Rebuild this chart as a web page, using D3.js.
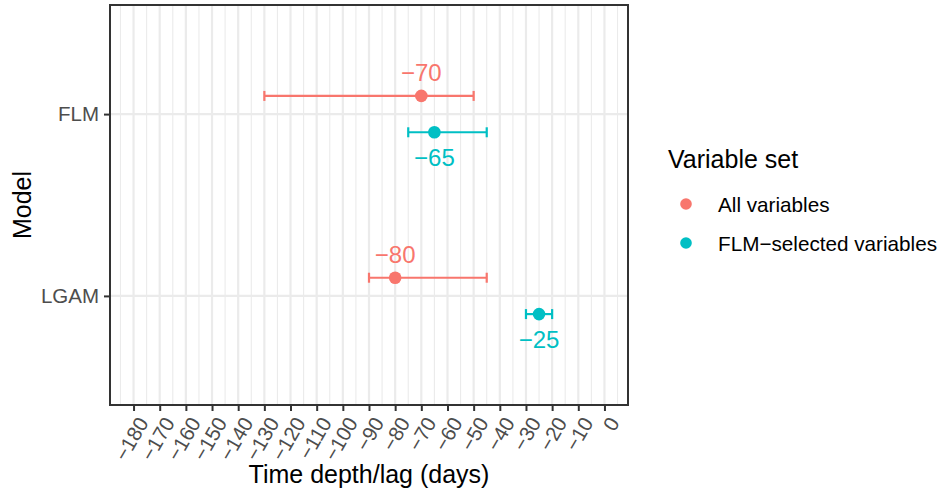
<!DOCTYPE html>
<html>
<head>
<meta charset="utf-8">
<script src="https://cdn.jsdelivr.net/npm/d3@7"></script>
<style>
  body { margin: 0; background: #fff; }
  text { font-family: "Liberation Sans", Arial, Helvetica, sans-serif; }
</style>
</head>
<body>
<svg id="chart" width="939" height="500"></svg>
<script>
// ---- data ----
const models = ["FLM", "LGAM"];
const variableSets = ["All variables", "FLM\u2212selected variables"];
const colors = ["#F8766D", "#00BFC4"];
// estimates (days) per model, per variable set
const allEstimate = [-70, -80];
const allLower = [-130, -90];
const allUpper = [-50, -45];
const selEstimate = [-65, -25];
const selLower = [-75, -30];
const selUpper = [-45, -20];
const xTicks = [-180, -170, -160, -150, -140, -130, -120, -110, -100, -90, -80, -70, -60, -50, -40, -30, -20, -10, 0];
const xLimits = [-180, 0];

const rows = [];
models.forEach((m, i) => {
  rows.push({ model: m, set: 0, est: allEstimate[i], lo: allLower[i], hi: allUpper[i] });
  rows.push({ model: m, set: 1, est: selEstimate[i], lo: selLower[i], hi: selUpper[i] });
});

const svg = d3.select("#chart");
const panel = { left: 110, right: 628, top: 5, bottom: 405 };
const ext = (xLimits[1] - xLimits[0]) * 0.05;
const x = d3.scaleLinear().domain([xLimits[0] - ext, xLimits[1] + ext]).range([panel.left, panel.right]);
const y = d3.scalePoint().domain(models).range([panel.top, panel.bottom]).padding(0.6);
const step = y.step();
const dodge = s => (s === 0 ? -0.1 : 0.1) * step;
const fmt = v => (v < 0 ? "\u2212" + Math.abs(v) : String(v));

// panel background
svg.append("rect").attr("x", panel.left).attr("y", panel.top)
  .attr("width", panel.right - panel.left).attr("height", panel.bottom - panel.top)
  .attr("fill", "#fff");

// minor gridlines (midpoints)
const minor = d3.range(xLimits[0] - 5, xLimits[1] + 10, 10).filter(v => x(v) > panel.left && x(v) < panel.right);
svg.append("g").selectAll("line").data(minor).join("line")
  .attr("x1", d => x(d)).attr("x2", d => x(d))
  .attr("y1", panel.top).attr("y2", panel.bottom)
  .attr("stroke", "#EBEBEB").attr("stroke-width", 1.1);
// major gridlines
svg.append("g").selectAll("line").data(xTicks).join("line")
  .attr("x1", d => x(d)).attr("x2", d => x(d))
  .attr("y1", panel.top).attr("y2", panel.bottom)
  .attr("stroke", "#EBEBEB").attr("stroke-width", 2.2);
svg.append("g").selectAll("line").data(models).join("line")
  .attr("x1", panel.left).attr("x2", panel.right)
  .attr("y1", d => y(d)).attr("y2", d => y(d))
  .attr("stroke", "#EBEBEB").attr("stroke-width", 2.2);

// error bars
const capH = 5;
const eb = svg.append("g").selectAll("g").data(rows).join("g")
  .attr("stroke", d => colors[d.set]).attr("stroke-width", 2.2).attr("fill", "none");
eb.append("line")
  .attr("x1", d => x(d.lo)).attr("x2", d => x(d.hi))
  .attr("y1", d => y(d.model) + dodge(d.set)).attr("y2", d => y(d.model) + dodge(d.set));
eb.append("line")
  .attr("x1", d => x(d.lo)).attr("x2", d => x(d.lo))
  .attr("y1", d => y(d.model) + dodge(d.set) - capH).attr("y2", d => y(d.model) + dodge(d.set) + capH);
eb.append("line")
  .attr("x1", d => x(d.hi)).attr("x2", d => x(d.hi))
  .attr("y1", d => y(d.model) + dodge(d.set) - capH).attr("y2", d => y(d.model) + dodge(d.set) + capH);

// points
svg.append("g").selectAll("circle").data(rows).join("circle")
  .attr("cx", d => x(d.est)).attr("cy", d => y(d.model) + dodge(d.set))
  .attr("r", 6.3).attr("fill", d => colors[d.set]);

// value labels
svg.append("g").selectAll("text").data(rows).join("text")
  .attr("x", d => x(d.est))
  .attr("y", d => y(d.model) + dodge(d.set) + (d.set === 0 ? -15 : 34))
  .attr("text-anchor", "middle").attr("font-size", 24)
  .attr("fill", d => colors[d.set])
  .text(d => fmt(d.est));

// panel border
svg.append("rect").attr("x", panel.left).attr("y", panel.top)
  .attr("width", panel.right - panel.left).attr("height", panel.bottom - panel.top)
  .attr("fill", "none").attr("stroke", "#333333").attr("stroke-width", 2);

// x axis
const xAxis = svg.append("g").attr("transform", `translate(0,${panel.bottom})`)
  .call(d3.axisBottom(x).tickValues(xTicks).tickSize(6).tickPadding(0).tickFormat(fmt));
xAxis.select(".domain").remove();
xAxis.selectAll(".tick line").attr("stroke", "#333333").attr("stroke-width", 2);
xAxis.selectAll(".tick text")
  .attr("font-size", 20.5).attr("fill", "#4D4D4D")
  .attr("font-family", "Liberation Sans, Arial, sans-serif")
  .attr("text-anchor", "end")
  .attr("y", 0).attr("dy", 0)
  .attr("transform", "translate(2,10) rotate(-60)")
  .attr("dominant-baseline", "hanging");

// y axis
const yAxis = svg.append("g").attr("transform", `translate(${panel.left},0)`)
  .call(d3.axisLeft(y).tickSize(6).tickPadding(5));
yAxis.select(".domain").remove();
yAxis.selectAll(".tick line").attr("stroke", "#333333").attr("stroke-width", 2);
yAxis.selectAll(".tick text")
  .attr("font-size", 20.5).attr("fill", "#4D4D4D")
  .attr("font-family", "Liberation Sans, Arial, sans-serif");

// axis titles
svg.append("text").attr("x", (panel.left + panel.right) / 2).attr("y", 483)
  .attr("text-anchor", "middle").attr("font-size", 25).attr("fill", "#000")
  .text("Time depth/lag (days)");
svg.append("text")
  .attr("transform", `translate(31,${(panel.top + panel.bottom) / 2}) rotate(-90)`)
  .attr("text-anchor", "middle").attr("font-size", 25).attr("fill", "#000")
  .text("Model");

// legend
const lg = svg.append("g");
lg.append("text").attr("x", 668).attr("y", 168).attr("font-size", 25).attr("fill", "#000")
  .text("Variable set");
const items = lg.selectAll("g.item").data(variableSets).join("g").attr("class", "item")
  .attr("transform", (d, i) => `translate(686,${204 + i * 39})`);
items.append("circle").attr("r", 5.8).attr("fill", (d, i) => colors[i]);
items.append("text").attr("x", 32).attr("y", 7.5).attr("font-size", 20.7).attr("fill", "#000")
  .text(d => d);
</script>
</body>
</html>
